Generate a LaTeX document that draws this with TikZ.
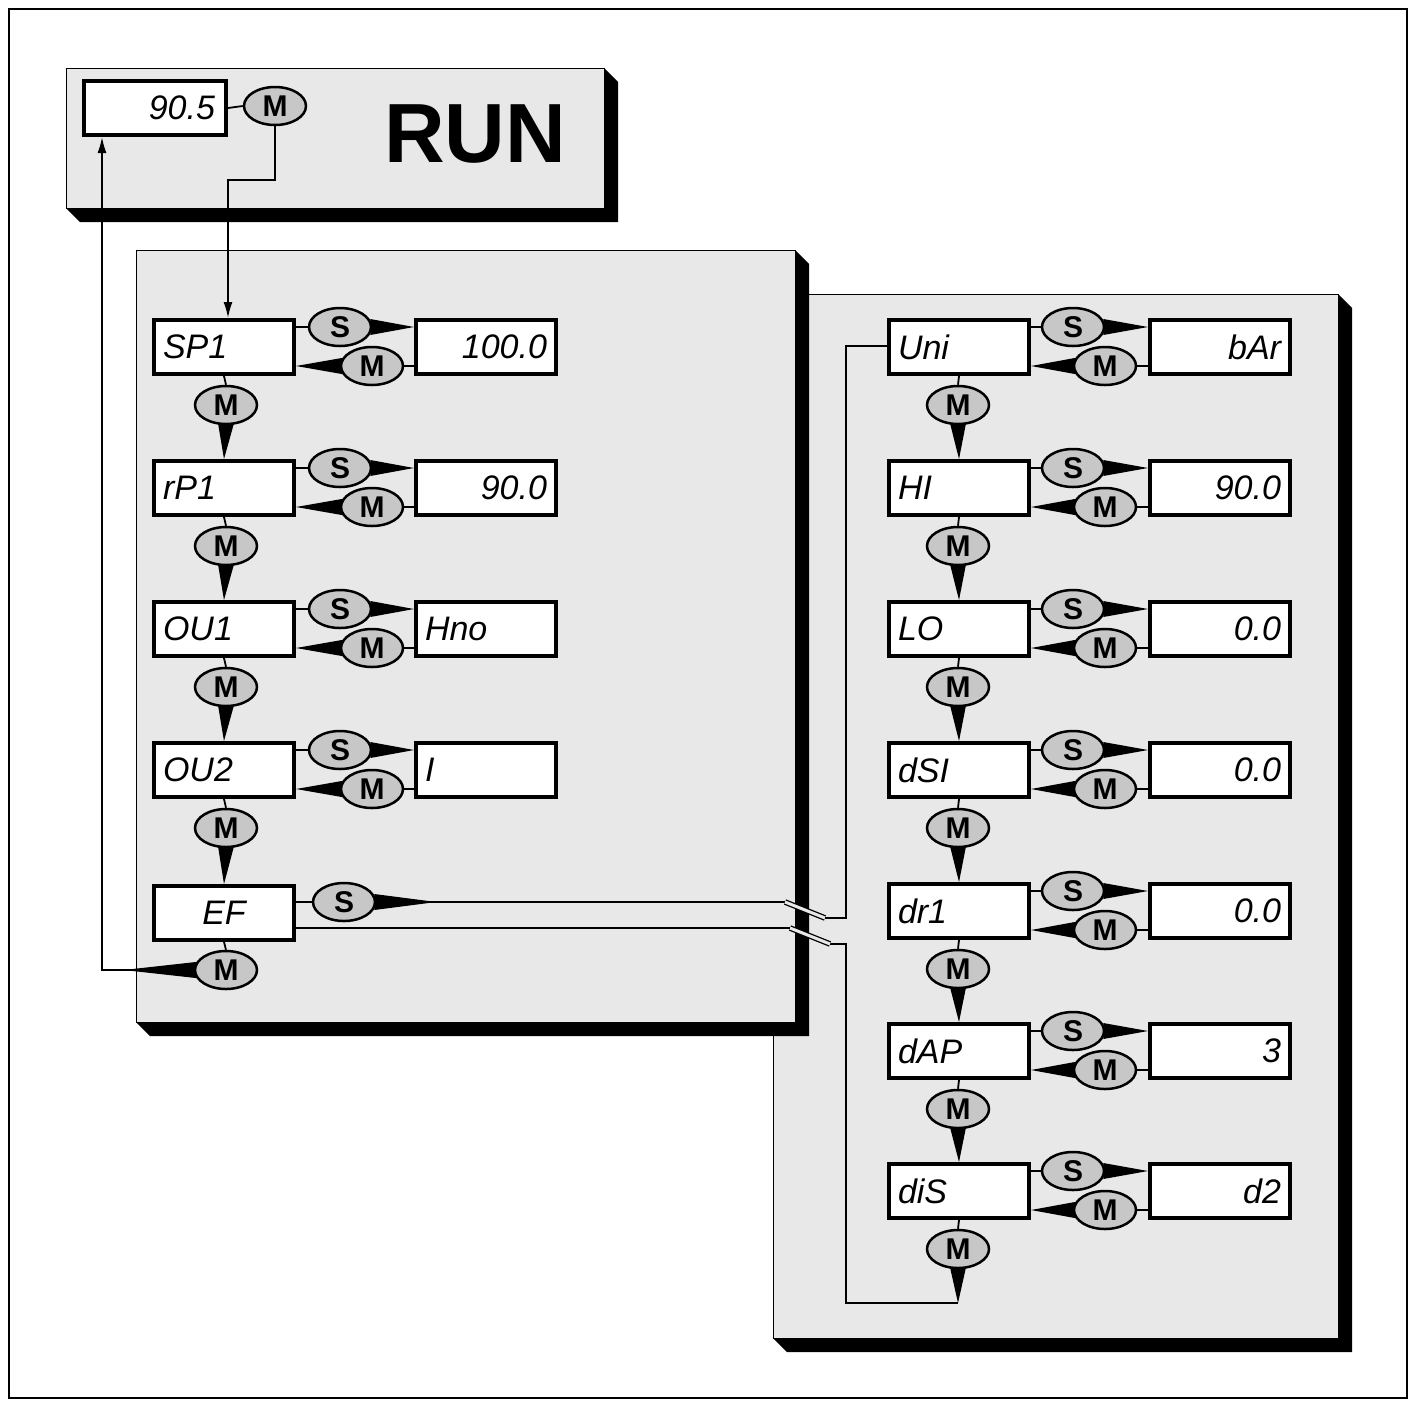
\documentclass[tikz,border=0pt]{standalone}
\usepackage{fontspec}
\setmainfont{Liberation Sans}
\usetikzlibrary{shapes.geometric,calc,arrows.meta}
\begin{document}
\begin{tikzpicture}[x=1pt,y=-1pt,
  disp/.style={draw,line width=4pt,fill=white,minimum width=140pt,minimum height=54pt,inner sep=6pt,font=\fontsize{34}{34}\selectfont\itshape,text width=122pt},
  btn/.style={ellipse,draw,line width=2.5pt,fill=black!22,minimum width=62pt,minimum height=38pt,inner sep=0pt,font=\fontsize{30}{30}\selectfont\bfseries},
  panel/.style={draw,line width=1pt,fill=black!9},
  ln/.style={line width=1.8pt},
  dl/.style={draw=black,double=black!9,double distance=3pt,line width=1.3pt}]
\useasboundingbox (0,0) rectangle (1415,1406);
\fill[white] (0,0) rectangle (1415,1406);
\draw[line width=1.5pt] (9,9) rectangle (1407,1398);
\newcommand\mypanel[4]{%
 \fill[black] (#3,#2) -- (#3+14,#2+14) -- (#3+14,#4+14) -- (#1+14,#4+14) -- (#1,#4) -- cycle;
 \draw[panel] (#1,#2) rectangle (#3,#4);}
\mypanel{773}{294}{1338}{1338}
\mypanel{136}{250}{795}{1022}
\mypanel{66}{68}{604}{208}
\node[disp,align=right,minimum width=142pt,text width=120pt] (run) at (155,108) {90.5};
\node[btn] (mrun) at (275,106) {M};
\node[font=\fontsize{84}{84}\selectfont\bfseries] (runlbl) at (475,134) {RUN};
\draw[ln] (run.east) -- (mrun.west);
\foreach \t/\a/\b/\al [count=\i] in {318/SP1/100.0/right,459/rP1/90.0/right,600/OU1/Hno/left,741/OU2/I/left}{
  \node[disp,align=left] (L\i) at (224,\t+29) {\a};
  \node[disp,align=\al] (V\i) at (486,\t+29) {\b};
  \node[btn] (S\i) at (340,\t+9) {S};
  \node[btn] (M\i) at (372,\t+48) {M};
  \node[btn] (D\i) at (226,\t+87) {M};
  \draw[ln] (L\i.east |- S\i) -- (S\i.west);
  \fill ($(S\i.east)+(-2,-8)$) -- ($(S\i.east)+(-2,8)$) -- (S\i -| V\i.west) -- cycle;
  \draw[ln] (V\i.west |- M\i) -- (M\i.east);
  \fill ($(M\i.west)+(2,-8)$) -- ($(M\i.west)+(2,8)$) -- (M\i -| L\i.east) -- cycle;
  \draw[ln] (L\i.south) -- (D\i.north);
}
\node[disp,align=center] (L5) at (224,913) {EF};
\foreach \i [count=\j from 2] in {1,...,4}{
  \fill ($(D\i.south)+(-8,-2)$) -- ($(D\i.south)+(8,-2)$) -- (L\j.north) -- cycle;}
\node[btn] (S5) at (344,902) {S};
\node[btn] (M5) at (226,970) {M};
\draw[ln] (L5.east |- S5) -- (S5.west);
\draw[ln] (L5.south) -- (M5.north);
\foreach \t/\a/\b/\al [count=\i] in {318/Uni/bAr/right,459/HI/90.0/right,600/LO/0.0/right,741/dSI/0.0/right,882/dr1/0.0/right,1022/dAP/3/right,1162/diS/d2/right}{
  \node[disp,align=left] (R\i) at (959,\t+29) {\a};
  \node[disp,align=\al] (W\i) at (1220,\t+29) {\b};
  \node[btn] (T\i) at (1073,\t+9) {S};
  \node[btn] (N\i) at (1105,\t+48) {M};
  \node[btn] (E\i) at (958,\t+87) {M};
  \draw[ln] (R\i.east |- T\i) -- (T\i.west);
  \fill ($(T\i.east)+(-2,-8)$) -- ($(T\i.east)+(-2,8)$) -- (T\i -| W\i.west) -- cycle;
  \draw[ln] (W\i.west |- N\i) -- (N\i.east);
  \fill ($(N\i.west)+(2,-8)$) -- ($(N\i.west)+(2,8)$) -- (N\i -| R\i.east) -- cycle;
  \draw[ln] (R\i.south) -- (E\i.north);
}
\foreach \i [count=\j from 2] in {1,...,6}{
  \fill ($(E\i.south)+(-8,-2)$) -- ($(E\i.south)+(8,-2)$) -- (R\j.north) -- cycle;}
\coordinate (e7) at (958,1303);
\fill ($(E7.south)+(-8,-2)$) -- ($(E7.south)+(8,-2)$) -- (e7) -- cycle;
% EF S to Uni
\fill ($(S5.east)+(-2,-8)$) -- ($(S5.east)+(-2,8)$) -- ($(S5.east)+(60,0)$) -- cycle;
\draw[ln] (S5.east) -- (785,902);
\path[dl] (785,902) -- (825,918);
\draw[ln] (825,918) -- (846,918) -- (846,346) -- (R1.west |- 0,346);
% diS M back to EF
\draw[ln] (e7) -- (846,1303) -- (846,944) -- (830,944);
\path[dl] (830,944) -- (790,928);
\draw[ln] (790,928) -- (L5.east |- 0,928);
% EF M back to RUN
\coordinate (c1) at (102,970);
\fill ($(M5.west)+(2,-8)$) -- ($(M5.west)+(2,8)$) -- ($(M5.west)+(-70,0)$) -- cycle;
\draw[ln,-{Latex[length=16pt,width=9pt]}] (M5.west) -- (c1) -- (run.south -| c1);
\draw[ln,-{Latex[length=16pt,width=9pt]}] (mrun.south) -- (275,180) -- (228,180) -- (L1.north -| 228,0);
\end{tikzpicture}
\end{document}
